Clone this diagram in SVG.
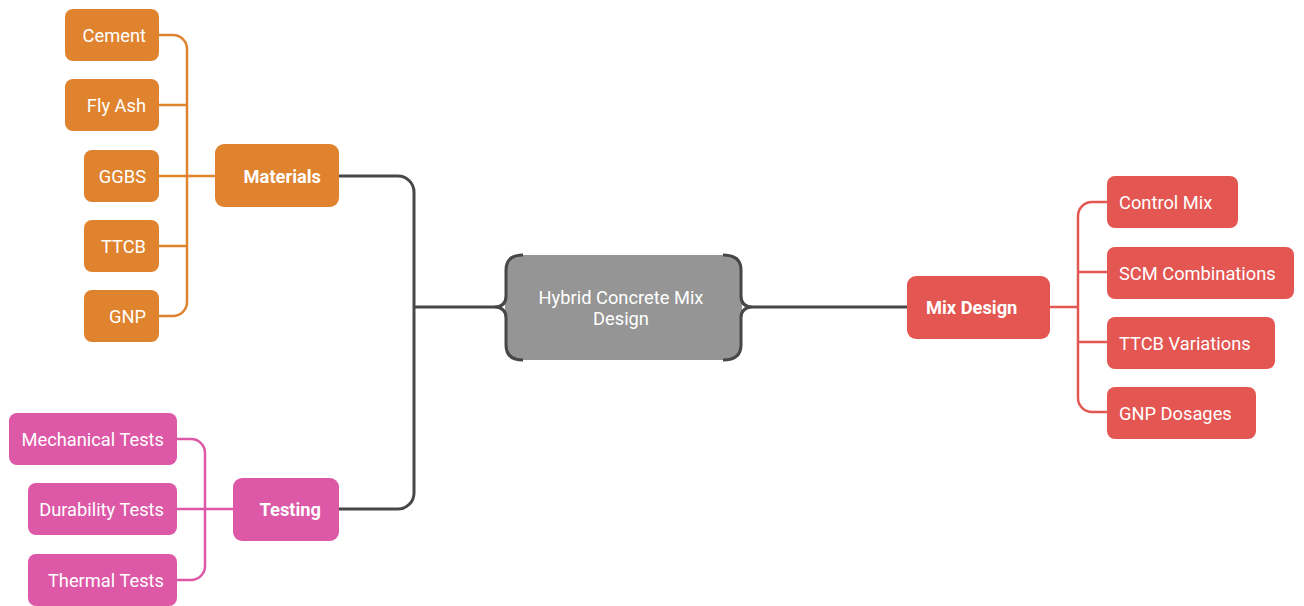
<svg xmlns="http://www.w3.org/2000/svg" width="1304" height="606" viewBox="0 0 1304 606">
<style>
text{font-family:Roboto,"Liberation Sans",sans-serif;font-size:18.3px;fill:#ffffff}
.b{font-weight:bold}
.o{fill:#E0832F}
.r{fill:#E35652}
.p{fill:#DD58A6}
.e{text-anchor:end}
.m{text-anchor:middle}
.co{fill:none;stroke:#E0832F;stroke-width:2.5}
.cr{fill:none;stroke:#E35652;stroke-width:2.5}
.cp{fill:none;stroke:#DD58A6;stroke-width:2.5}
.cd{fill:none;stroke:#474747;stroke-width:3}
</style>
<rect width="1304" height="606" fill="#ffffff"/>
<g id="connectors">
<path class="cd" d="M339,176 H398 A16,16 0 0 1 414,192 V493 A16,16 0 0 1 398,509 H339 M414,307 H494 M753,307 H907"/>
<path class="co" d="M159,35 H173 A14,14 0 0 1 187,49 V302 A14,14 0 0 1 173,316 H159 M159,105 H187 M159,176 H215 M159,246 H187"/>
<path class="cp" d="M177,439 H191 A14,14 0 0 1 205,453 V566 A14,14 0 0 1 191,580 H177 M177,509 H233"/>
<path class="cr" d="M1107,202 H1092 A14,14 0 0 0 1078,216 V398 A14,14 0 0 0 1092,412 H1107 M1078,272 H1107 M1078,342 H1107 M1050,307 H1078"/>
</g>
<g id="center">
<rect x="505" y="255" width="237" height="105" rx="16" fill="#959595"/>
<path class="cd" d="M523,255 Q506,255 506,270 V296 Q506,307 494,307 Q506,307 506,318 V345 Q506,360 523,360"/>
<path class="cd" d="M723,255 Q741,255 741,270 V296 Q741,307 753,307 Q741,307 741,318 V345 Q741,360 723,360"/>
<text class="m" x="621" y="304" fill="#f2f2f2">Hybrid Concrete Mix</text>
<text class="m" x="621" y="325" fill="#f2f2f2">Design</text>
</g>
<g id="materials"><rect class="o" x="215" y="144" width="124" height="63" rx="9"/><text class="b e" x="321" y="183">Materials</text></g>
<g id="cement"><rect class="o" x="65" y="9" width="94" height="52" rx="8"/><text class="e" x="146" y="42">Cement</text></g>
<g id="flyash"><rect class="o" x="65" y="79" width="94" height="52" rx="8"/><text class="e" x="146" y="112">Fly Ash</text></g>
<g id="ggbs"><rect class="o" x="84" y="150" width="75" height="52" rx="8"/><text class="e" x="146" y="183">GGBS</text></g>
<g id="ttcb"><rect class="o" x="84" y="220" width="75" height="52" rx="8"/><text class="e" x="146" y="253">TTCB</text></g>
<g id="gnp"><rect class="o" x="84" y="290" width="75" height="52" rx="8"/><text class="e" x="146" y="323">GNP</text></g>
<g id="testing"><rect class="p" x="233" y="478" width="106" height="63" rx="9"/><text class="b e" x="321" y="516">Testing</text></g>
<g id="mechanical"><rect class="p" x="9" y="413" width="168" height="52" rx="8"/><text class="e" x="164" y="446">Mechanical Tests</text></g>
<g id="durability"><rect class="p" x="28" y="483" width="149" height="52" rx="8"/><text class="e" x="164" y="516">Durability Tests</text></g>
<g id="thermal"><rect class="p" x="28" y="554" width="149" height="52" rx="8"/><text class="e" x="164" y="587">Thermal Tests</text></g>
<g id="mixdesign"><rect class="r" x="907" y="276" width="143" height="63" rx="9"/><text class="b" x="926" y="314">Mix Design</text></g>
<g id="controlmix"><rect class="r" x="1107" y="176" width="131" height="52" rx="8"/><text x="1119" y="209">Control Mix</text></g>
<g id="scm"><rect class="r" x="1107" y="247" width="187" height="52" rx="8"/><text x="1119" y="280">SCM Combinations</text></g>
<g id="ttcbvar"><rect class="r" x="1107" y="317" width="168" height="52" rx="8"/><text x="1119" y="350">TTCB Variations</text></g>
<g id="gnpdos"><rect class="r" x="1107" y="387" width="149" height="52" rx="8"/><text x="1119" y="420">GNP Dosages</text></g>
</svg>
